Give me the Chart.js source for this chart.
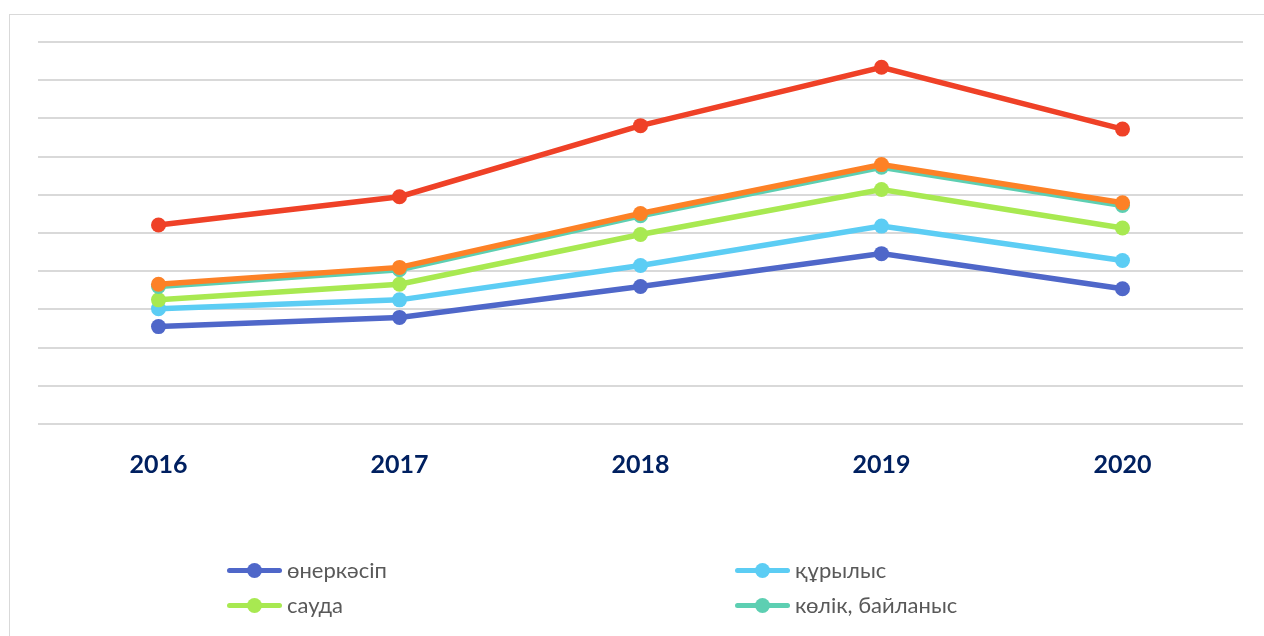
<!DOCTYPE html>
<html>
<head>
<meta charset="utf-8">
<script src="https://cdn.jsdelivr.net/npm/chart.js@4/dist/chart.umd.min.js"></script>
<style>
  html, body { margin: 0; padding: 0; width: 1264px; height: 636px; overflow: hidden; background: #fff; }
  #frame { position: absolute; left: 9px; top: 14px; width: 1300px; height: 700px; border: 1px solid #d9d9d9; box-sizing: border-box; }
  #myChart { position: absolute; left: 0; top: 0; }
  #legend { position: absolute; left: 0; top: 0; font-family: Lato, 'Open Sans', sans-serif; font-size: 22px; color: #595959; }
  .item { position: absolute; height: 20px; white-space: nowrap; }
  .item .ln { position: absolute; left: 0; top: 7px; width: 55px; height: 5px; border-radius: 3px; }
  .item .dot { position: absolute; left: 20px; top: 2px; width: 15px; height: 15px; border-radius: 50%; }
  .item .tx { position: absolute; left: 60px; top: -6px; line-height: 30px; }
</style>
</head>
<body>
<div id="frame"></div>
<canvas id="myChart" width="1264" height="636"></canvas>
<div id="legend"></div>
<script>
const years = ['2016', '2017', '2018', '2019', '2020']

const names = ['өнеркәсіп', 'құрылыс', 'сауда', 'көлік, байланыс', 'ауыл шаруашылығы', 'қаржылық қызмет']
const colors = ['#4f67c9', '#5ccdf4', '#a8e951', '#5dcfb2', '#fd8126', '#ef4127']

const industry = [2.55, 2.79, 3.60, 4.46, 3.54]
const construction = [3.02, 3.25, 4.15, 5.18, 4.28]
const trade = [3.25, 3.66, 4.96, 6.14, 5.13]
const transport = [3.60, 4.04, 5.45, 6.72, 5.72]
const agriculture = [3.66, 4.10, 5.51, 6.79, 5.79]
const finance = [5.21, 5.95, 7.81, 9.34, 7.72]

const series = [industry, construction, trade, transport, agriculture, finance]

const canvas = document.getElementById('myChart')

function createChart() {
    const datasets = series.map((values, i) => ({
        label: names[i],
        data: values,
        borderColor: colors[i],
        backgroundColor: colors[i],
        borderWidth: 5.5,
        pointRadius: 7.5,
        pointBorderWidth: 0,
        pointHoverRadius: 7.5,
        tension: 0,
        order: series.length - i
    }))

    const config = {
        type: 'line',
        data: { labels: years, datasets: datasets },
        options: {
            responsive: false,
            animation: false,
            devicePixelRatio: 1,
            layout: {
                padding: { left: 38, right: 21, top: 42, bottom: 152 }
            },
            plugins: {
                legend: { display: false },
                tooltip: { enabled: false }
            },
            scales: {
                x: {
                    offset: true,
                    grid: { display: false },
                    border: { display: false },
                    ticks: {
                        padding: 18,
                        color: '#002060',
                        font: { family: 'Lato', size: 25, weight: 'bold' }
                    },
                    afterFit: (scale) => { scale.height = 60 }
                },
                y: {
                    min: 0,
                    max: 10,
                    ticks: { display: false, stepSize: 1 },
                    border: { display: false },
                    grid: { color: '#d9d9d9', lineWidth: 2, drawTicks: false }
                }
            }
        }
    }

    return new Chart(canvas, config)
}

createChart()

// legend in two columns, like the original; third row falls below the window
const legend = document.getElementById('legend')
const colX = [227, 735]
const rowY = [561, 596, 637]
names.forEach((name, i) => {
    const item = document.createElement('div')
    item.className = 'item'
    item.style.left = colX[i % 2] + 'px'
    item.style.top = rowY[Math.floor(i / 2)] + 'px'
    item.innerHTML = '<span class="ln"></span><span class="dot"></span><span class="tx"></span>'
    item.querySelector('.ln').style.background = colors[i]
    item.querySelector('.dot').style.background = colors[i]
    item.querySelector('.tx').textContent = name
    legend.appendChild(item)
})
</script>
</body>
</html>
